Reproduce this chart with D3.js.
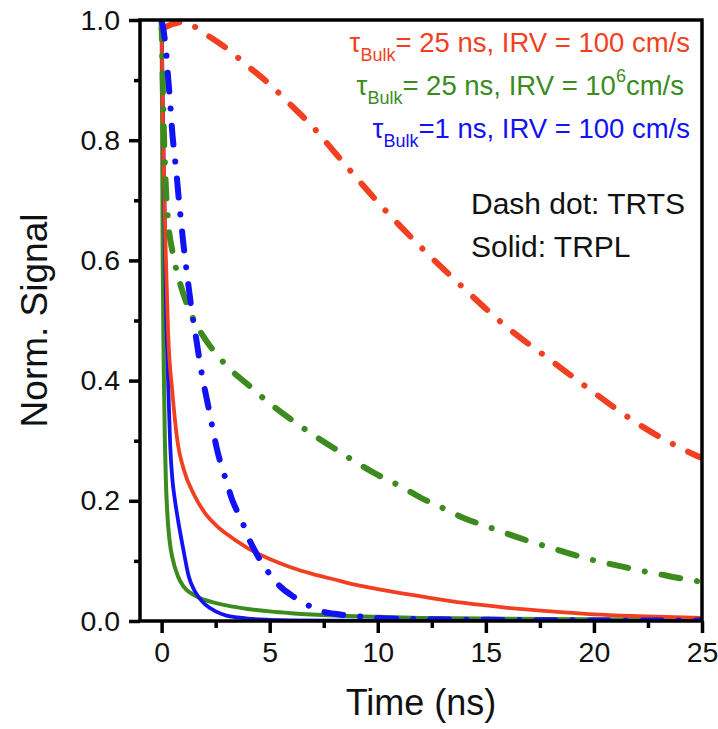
<!DOCTYPE html>
<html><head><meta charset="utf-8">
<script src="https://cdn.jsdelivr.net/npm/d3@7"></script>
<style>body{margin:0;background:#fff}svg{display:block}text{font-family:"Liberation Sans",Arial,sans-serif}</style>
</head><body><svg id="c" width="718" height="729"></svg>
<script>
// ---- data ----
const tRedTRTS = [0, 0.5, 1, 2, 3, 4, 5, 6, 7, 8, 9, 10, 12, 14, 16, 18, 20, 22, 24, 25];
const vRedTRTS = [0.985, 0.993, 0.997, 0.977, 0.953, 0.923, 0.893, 0.858, 0.822, 0.78, 0.738, 0.697, 0.622, 0.553, 0.488, 0.434, 0.38, 0.329, 0.288, 0.271];

const tGreenTRTS = [0, 0.05, 0.1, 0.2, 0.3, 0.5, 0.75, 1, 1.5, 2, 3, 4, 5, 6, 7, 8, 9, 10, 11, 12, 13, 14, 15, 16, 17, 18, 19, 20, 21, 22, 23, 24, 25];
const vGreenTRTS = [1.0, 0.9, 0.82, 0.72, 0.665, 0.615, 0.575, 0.545, 0.50, 0.47, 0.425, 0.393, 0.362, 0.335, 0.31, 0.287, 0.264, 0.243, 0.225, 0.205, 0.188, 0.171, 0.158, 0.145, 0.133, 0.122, 0.111, 0.101, 0.093, 0.085, 0.078, 0.071, 0.065];

const tBlueTRTS = [0, 0.1, 0.2, 0.3, 0.4, 0.5, 0.6, 0.7, 0.8, 0.9, 1.0, 1.2, 1.4, 1.6, 1.8, 2.0, 2.2, 2.4, 2.6, 2.8, 3.0, 3.25, 3.5, 3.75, 4.0, 4.5, 5.0, 5.5, 6, 6.5, 7, 7.5, 8, 9, 10, 12, 15, 20, 25];
const vBlueTRTS = [1.0, 0.98, 0.95, 0.905, 0.86, 0.81, 0.775, 0.74, 0.70, 0.665, 0.63, 0.57, 0.515, 0.47, 0.423, 0.385, 0.35, 0.313, 0.28, 0.255, 0.232, 0.203, 0.182, 0.163, 0.14, 0.105, 0.078, 0.057, 0.043, 0.032, 0.022, 0.015, 0.012, 0.008, 0.005, 0.003, 0.002, 0.001, 0.001];

const tRedTRPL = [0, 0.05, 0.1, 0.2, 0.3, 0.5, 0.75, 1.0, 1.5, 2, 2.5, 3, 4, 5, 6, 7, 8, 9, 10, 12, 14, 16, 18, 20, 22, 25];
const vRedTRPL = [1.0, 0.85, 0.75, 0.6, 0.48, 0.38, 0.295, 0.255, 0.21, 0.18, 0.16, 0.145, 0.121, 0.103, 0.089, 0.078, 0.069, 0.06, 0.053, 0.041, 0.03, 0.022, 0.016, 0.011, 0.008, 0.005];

const tBlueTRPL = [0, 0.1, 0.2, 0.3, 0.4, 0.5, 0.6, 0.75, 1.0, 1.25, 1.5, 1.75, 2, 2.5, 3, 3.5, 4, 5, 6, 8, 25];
const vBlueTRPL = [1.0, 0.75, 0.53, 0.4, 0.29, 0.235, 0.205, 0.17, 0.12, 0.075, 0.052, 0.038, 0.028, 0.016, 0.009, 0.006, 0.004, 0.002, 0.001, 0.0005, 0];

const tGreenTRPL = [0, 0.05, 0.1, 0.15, 0.2, 0.3, 0.4, 0.5, 0.75, 1.0, 1.5, 2, 3, 4, 5, 6, 8, 10, 12, 15, 20, 25];
const vGreenTRPL = [1.0, 0.6, 0.42, 0.3, 0.23, 0.16, 0.125, 0.105, 0.075, 0.058, 0.043, 0.035, 0.026, 0.02, 0.016, 0.013, 0.009, 0.007, 0.005, 0.004, 0.003, 0.002];

const xMajorTicks = [0, 5, 10, 15, 20, 25];
const xMinorTicks = [2.5, 7.5, 12.5, 17.5, 22.5];
const yMajorTicks = [0, 0.2, 0.4, 0.6, 0.8, 1.0];
const yMinorTicks = [0.1, 0.3, 0.5, 0.7, 0.9];

const RED = "#f23f22", GREEN = "#3b8b1f", BLUE = "#1212f5";

// ---- layout ----
const L = 140, R = 702, T = 20, B = 621;
const svg = d3.select("#c");
const x = d3.scaleLinear().domain([-1, 25]).range([L, R]);
const y = d3.scaleLinear().domain([0, 1]).range([B, T]);

svg.append("defs").append("clipPath").attr("id", "clip")
  .append("rect").attr("x", L).attr("y", T).attr("width", R - L).attr("height", B - T);

const g = svg.append("g").attr("clip-path", "url(#clip)");
const line = d3.line().x(d => x(d[0])).y(d => y(d[1])).curve(d3.curveMonotoneX);
const zip = (a, b) => a.map((t, i) => [t, b[i]]);

const series = [
  {t: tGreenTRPL, v: vGreenTRPL, c: GREEN, w: 4, dash: null},
  {t: tBlueTRPL, v: vBlueTRPL, c: BLUE, w: 3.8, dash: null},
  {t: tRedTRPL, v: vRedTRPL, c: RED, w: 3.8, dash: null},
  {t: tRedTRTS, v: vRedTRTS, c: RED, w: 6, dash: "19,17,0.1,17"},
  {t: tGreenTRTS, v: vGreenTRTS, c: GREEN, w: 6, dash: "19,17,0.1,17"},
  {t: tBlueTRTS, v: vBlueTRTS, c: BLUE, w: 6, dash: "19,17,0.1,17"}
];
series.forEach(s => {
  g.append("path").datum(zip(s.t, s.v)).attr("d", line)
    .attr("fill", "none").attr("stroke", s.c).attr("stroke-width", s.w)
    .attr("stroke-linecap", "round").attr("stroke-linejoin", "round")
    .attr("stroke-dasharray", s.dash);
});

// ---- axes ----
const fmt = d3.format(".1f");
svg.append("g").attr("transform", `translate(0,${B})`)
  .call(d3.axisBottom(x).tickValues(xMajorTicks).tickSize(12).tickPadding(9).tickFormat(d3.format("d")));
svg.append("g").attr("transform", `translate(0,${B})`)
  .call(d3.axisBottom(x).tickValues(xMinorTicks).tickSize(7).tickFormat(""));
svg.append("g").attr("transform", `translate(${L},0)`)
  .call(d3.axisLeft(y).tickValues(yMajorTicks).tickSize(11).tickPadding(9).tickFormat(fmt));
svg.append("g").attr("transform", `translate(${L},0)`)
  .call(d3.axisLeft(y).tickValues(yMinorTicks).tickSize(6).tickFormat(""));
svg.selectAll(".domain").remove();
svg.selectAll(".tick line").attr("stroke", "#000").attr("stroke-width", 3.5);
svg.selectAll(".tick text").attr("font-size", 28.5).attr("fill", "#111")
  .style("font-family", '"Liberation Sans", Arial, sans-serif');

svg.append("rect").attr("x", L).attr("y", T).attr("width", R - L).attr("height", B - T)
  .attr("fill", "none").attr("stroke", "#000").attr("stroke-width", 3.5);

// ---- titles ----
svg.append("text").attr("x", 421).attr("y", 715).attr("text-anchor", "middle")
  .attr("font-size", 36).attr("fill", "#111").text("Time (ns)");
svg.append("text").attr("transform", `translate(47,${(T + B) / 2}) rotate(-90)`)
  .attr("text-anchor", "middle").attr("font-size", 37).attr("fill", "#111").text("Norm. Signal");

// ---- legend ----
function legendLine(yb, color, after, sup, tail, xe) {
  const t = svg.append("text").attr("x", xe).attr("y", yb).attr("text-anchor", "end")
    .attr("font-size", 27.5).attr("fill", color);
  t.append("tspan").text("τ");
  t.append("tspan").attr("font-size", 18).attr("dy", 9).text("Bulk");
  t.append("tspan").attr("dy", -9).text(after);
  if (sup) {
    t.append("tspan").attr("font-size", 18).attr("dy", -13).text(sup);
    t.append("tspan").attr("dy", 13).text(tail);
  }
}
legendLine(52, RED, "= 25 ns, IRV = 100 cm/s", null, null, 690);
legendLine(95, GREEN, "= 25 ns, IRV = 10", "6", "cm/s", 684);
legendLine(138, BLUE, "=1 ns, IRV = 100 cm/s", null, null, 690);

svg.append("text").attr("x", 471).attr("y", 214).attr("font-size", 30).attr("fill", "#111").text("Dash dot: TRTS");
svg.append("text").attr("x", 471).attr("y", 257).attr("font-size", 30).attr("fill", "#111").text("Solid: TRPL");
</script></body></html>
